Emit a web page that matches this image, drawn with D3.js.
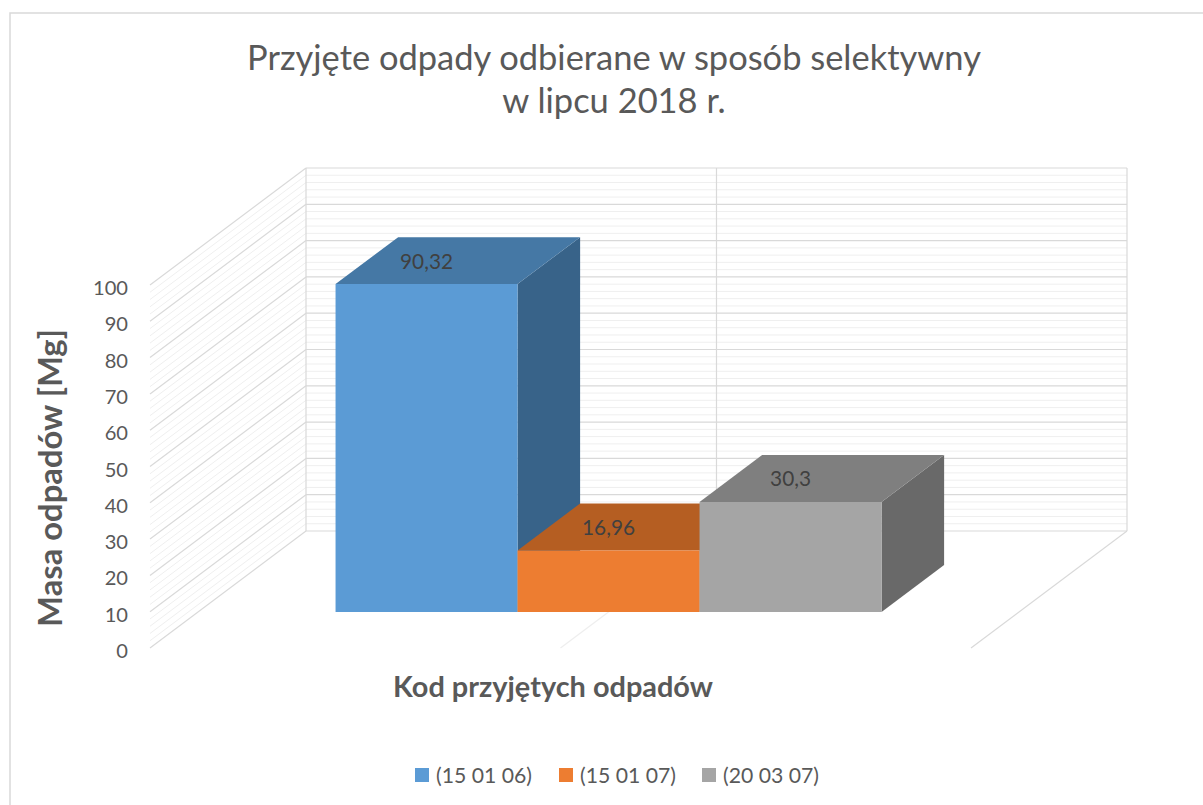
<!DOCTYPE html>
<html>
<head>
<meta charset="utf-8">
<script src="https://cdn.jsdelivr.net/npm/d3@7"></script>
<style>
  html, body { margin: 0; padding: 0; background: #fff; }
  svg { display: block; }
  text { font-family: Lato, "Open Sans", sans-serif; }
</style>
</head>
<body>
<svg id="chart" width="1203" height="805"></svg>
<script>
// ---- data ----
const titleLines = ["Przyjęte odpady odbierane w sposób selektywny", "w lipcu 2018 r."];
const seriesNames = ["(15 01 06)", "(15 01 07)", "(20 03 07)"];
const seriesValues = [90.32, 16.96, 30.3];
const valueLabels = ["90,32", "16,96", "30,3"];
const yTicks = [0, 10, 20, 30, 40, 50, 60, 70, 80, 90, 100];
const yAxisTitle = "Masa odpadów [Mg]";
const xAxisTitle = "Kod przyjętych odpadów";
const frontColors = ["#5b9bd5", "#ed7d31", "#a5a5a5"];
const topColors = ["#4578a5", "#b55e22", "#7f7f7f"];
const sideColors = ["#386389", "#a0521d", "#696969"];

// ---- geometry ----
const svg = d3.select("#chart");
const X0 = 150, Y0 = 648;          // front-left-bottom corner of floor
const W = 821;                     // plot width
const DX = 156, DY = 117;          // depth projection vector (front -> back)

const y = d3.scaleLinear().domain([0, 100]).range([0, 363]);
const xBand = d3.scaleBand().domain(seriesNames).range([137.5, 683.5]).padding(0);
const dFront = 0.308, dBack = 0.709;

function P(x, v, d) { return [X0 + x + d * DX, Y0 - y(v) - d * DY]; }
function poly(pts) { return pts.map(p => p.join(",")).join(" "); }

// fit a font size so that a reference string reaches a target width
function fitSize(str, weight, target) {
  const t = svg.append("text").attr("font-size", 100).attr("font-weight", weight).text(str);
  const w = t.node().getComputedTextLength();
  t.remove();
  return 100 * target / w;
}
const fsTitle = fitSize(titleLines[0], "normal", 734);
const fsTick = fitSize("100", "normal", 35);
const fsVal = fitSize("90,32", "normal", 53);
const fsYTitle = fitSize(yAxisTitle, "bold", 298);
const fsXTitle = fitSize(xAxisTitle, "bold", 320);
const fsLegend = fitSize(seriesNames[0], "normal", 96);

// chart border
svg.append("rect").attr("x", 10).attr("y", 13).attr("width", 1250).attr("height", 850)
  .attr("fill", "none").attr("stroke", "#d9d9d9").attr("stroke-width", 1.5);

// ---- gridlines ----
const grid = svg.append("g");
const minor = d3.range(0, 101, 2).filter(v => v % 10 !== 0);
minor.forEach(v => {
  const a = P(0, v, 1), b = P(W, v, 1), c = P(0, v, 0);
  grid.append("line").attr("x1", a[0]).attr("y1", a[1]).attr("x2", b[0]).attr("y2", b[1])
    .attr("stroke", "#efefef").attr("stroke-width", 1);
  grid.append("line").attr("x1", a[0]).attr("y1", a[1]).attr("x2", c[0]).attr("y2", c[1])
    .attr("stroke", "#efefef").attr("stroke-width", 1);
});
yTicks.forEach(v => {
  const a = P(0, v, 1), b = P(W, v, 1), c = P(0, v, 0);
  grid.append("line").attr("x1", a[0]).attr("y1", a[1]).attr("x2", b[0]).attr("y2", b[1])
    .attr("stroke", "#d9d9d9").attr("stroke-width", 1.2);
  grid.append("line").attr("x1", a[0]).attr("y1", a[1]).attr("x2", c[0]).attr("y2", c[1])
    .attr("stroke", "#d9d9d9").attr("stroke-width", 1.2);
});
// vertical edges of back wall + middle divider
[0, W / 2, W].forEach(x => {
  const a = P(x, 0, 1), b = P(x, 100, 1);
  grid.append("line").attr("x1", a[0]).attr("y1", a[1]).attr("x2", b[0]).attr("y2", b[1])
    .attr("stroke", "#d9d9d9").attr("stroke-width", 1.2);
});
// floor lines
[W / 2, W].forEach(x => {
  const a = P(x, 0, 1), b = P(x, 0, 0);
  grid.append("line").attr("x1", a[0]).attr("y1", a[1]).attr("x2", b[0]).attr("y2", b[1])
    .attr("stroke", x === W ? "#d9d9d9" : "#eeeeee").attr("stroke-width", 1.2);
});

// ---- bars ----
const bars = svg.append("g");
seriesNames.forEach((s, i) => {
  const x1 = xBand(s), x2 = x1 + xBand.bandwidth(), v = seriesValues[i];
  bars.append("polygon").attr("points", poly([P(x2, 0, dFront), P(x2, 0, dBack), P(x2, v, dBack), P(x2, v, dFront)]))
    .attr("fill", sideColors[i]);
  bars.append("polygon").attr("points", poly([P(x1, v, dFront), P(x2, v, dFront), P(x2, v, dBack), P(x1, v, dBack)]))
    .attr("fill", topColors[i]);
  bars.append("polygon").attr("points", poly([P(x1, 0, dFront), P(x2, 0, dFront), P(x2, v, dFront), P(x1, v, dFront)]))
    .attr("fill", frontColors[i]);
});
// value labels
seriesNames.forEach((s, i) => {
  const xc = xBand(s) + xBand.bandwidth() / 2, v = seriesValues[i];
  const p = P(xc, v, dFront);
  svg.append("text").attr("x", p[0]).attr("y", p[1] - 24)
    .attr("text-anchor", "middle").attr("dominant-baseline", "central")
    .attr("font-size", fsVal).attr("fill", "#404040").text(valueLabels[i]);
});

// ---- y axis labels ----
yTicks.forEach(v => {
  const p = P(0, v, 0);
  svg.append("text").attr("x", 128).attr("y", p[1] + 2)
    .attr("text-anchor", "end").attr("dominant-baseline", "central")
    .attr("font-size", fsTick).attr("fill", "#595959").text(v);
});

// ---- titles ----
svg.append("text").attr("x", 614).attr("y", 70).attr("text-anchor", "middle")
  .attr("font-size", fsTitle).attr("fill", "#595959").text(titleLines[0]);
svg.append("text").attr("x", 614).attr("y", 113).attr("text-anchor", "middle")
  .attr("font-size", fsTitle).attr("fill", "#595959").text(titleLines[1]);

svg.append("text").attr("transform", "translate(62,478) rotate(-90)")
  .attr("text-anchor", "middle").attr("font-size", fsYTitle).attr("font-weight", "bold")
  .attr("fill", "#595959").text(yAxisTitle);

svg.append("text").attr("x", 553).attr("y", 697).attr("text-anchor", "middle")
  .attr("font-size", fsXTitle).attr("font-weight", "bold").attr("fill", "#595959").text(xAxisTitle);

// ---- legend ----
const legendX = [415, 559, 702];
const legend = svg.append("g");
seriesNames.forEach((s, i) => {
  legend.append("rect").attr("x", legendX[i]).attr("y", 768).attr("width", 14).attr("height", 14)
    .attr("fill", frontColors[i]);
  legend.append("text").attr("x", legendX[i] + 21).attr("y", 775)
    .attr("dominant-baseline", "central").attr("font-size", fsLegend).attr("fill", "#595959").text(s);
});
</script>
</body>
</html>
